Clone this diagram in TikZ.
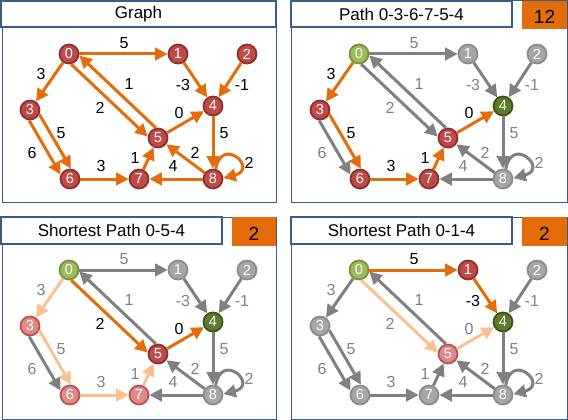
\documentclass[tikz,border=0pt]{standalone}
\usepackage{fontspec}
\setmainfont{Liberation Sans}
\usetikzlibrary{arrows.meta,calc}

\definecolor{hotorange}{HTML}{E46C0A}
\definecolor{paleorange}{HTML}{FAC090}
\definecolor{edgegray}{HTML}{808080}
\definecolor{framebl}{HTML}{385D8A}
\definecolor{redfill}{HTML}{BE4B48}
\definecolor{redline}{HTML}{8C3130}
\definecolor{pinkfill}{HTML}{D98C8A}
\definecolor{pinkline}{HTML}{C0504D}
\definecolor{grayfill}{HTML}{A6A6A6}
\definecolor{grayline}{HTML}{8C8C8C}
\definecolor{lgfill}{HTML}{9BBB59}
\definecolor{lgline}{HTML}{76923C}
\definecolor{dgfill}{HTML}{5E7B2B}
\definecolor{dgline}{HTML}{3F5218}

\tikzset{
  vertex/.style={circle, minimum size=19pt, inner sep=0pt, line width=1.8pt,
    text=white, font=\fontsize{14.5}{15}\selectfont},
  vred/.style={vertex, fill=redfill, draw=redline},
  vpink/.style={vertex, fill=pinkfill, draw=pinkline},
  vgray/.style={vertex, fill=grayfill, draw=grayline},
  vlgreen/.style={vertex, fill=lgfill, draw=lgline},
  vdgreen/.style={vertex, fill=dgfill, draw=dgline},
  link/.style={line width=3pt, -{Triangle[length=12.5pt,width=12.5pt]}},
  hot/.style={link, draw=hotorange, text=black},
  warm/.style={link, draw=paleorange, text=edgegray},
  cold/.style={link, draw=edgegray, text=edgegray},
  wlabel/.style={font=\fontsize{16}{17}\selectfont, inner sep=0pt},
  frame/.style={draw=framebl, line width=1pt},
  titlebox/.style={rectangle, draw=framebl, line width=1.5pt, fill=white,
    inner sep=0pt, font=\fontsize{17}{18}\selectfont},
  scorebox/.style={rectangle, fill=hotorange, inner sep=0pt,
    text height=17pt, text depth=0pt, font=\fontsize{19}{20}\selectfont},
  allhot/.style={e01/.style=hot, e03/.style=hot, e05/.style=hot, e50/.style=hot,
    e14/.style=hot, e24/.style=hot, e36a/.style=hot, e36b/.style=hot, e67/.style=hot,
    e75/.style=hot, e54/.style=hot, e48/.style=hot, e85/.style=hot, e87/.style=hot,
    e88/.style=hot},
  allcold/.style={e01/.style=cold, e03/.style=cold, e05/.style=cold, e50/.style=cold,
    e14/.style=cold, e24/.style=cold, e36a/.style=cold, e36b/.style=cold, e67/.style=cold,
    e75/.style=cold, e54/.style=cold, e48/.style=cold, e85/.style=cold, e87/.style=cold,
    e88/.style=cold},
  allred/.style={v0/.style=vred, v1/.style=vred, v2/.style=vred, v3/.style=vred,
    v4/.style=vred, v5/.style=vred, v6/.style=vred, v7/.style=vred, v8/.style=vred},
  allgray/.style={v0/.style=vgray, v1/.style=vgray, v2/.style=vgray, v3/.style=vgray,
    v4/.style=vgray, v5/.style=vgray, v6/.style=vgray, v7/.style=vgray, v8/.style=vgray},
}

% The weighted digraph; #1 prefixes every node name
\newcommand\graphpanel[1]{%
  \node[v0] (#1n0) at (69,54) {0};
  \node[v1] (#1n1) at (178,54) {1};
  \node[v2] (#1n2) at (247,54) {2};
  \node[v3] (#1n3) at (30,110) {3};
  \node[v4] (#1n4) at (213,106) {4};
  \node[v5] (#1n5) at (158,138) {5};
  \node[v6] (#1n6) at (70,179) {6};
  \node[v7] (#1n7) at (139,179) {7};
  \node[v8] (#1n8) at (213,179) {8};
  \draw[e01] (#1n0) -- (#1n1) node[wlabel, at={(124,43)}] (#1w01) {5};
  \draw[e03] (#1n0) -- (#1n3) node[wlabel, at={(41,74)}] (#1w03) {3};
  \draw[e05] (#1n0.-78) -- (#1n5.172) node[wlabel, at={(100,108)}] (#1w05) {2};
  \draw[e50] (#1n5.102) -- (#1n0.-8) node[wlabel, at={(129,84)}] (#1w50) {1};
  \draw[e14] (#1n1) -- (#1n4) node[wlabel, at={(183,85)}] (#1w14) {-3};
  \draw[e24] (#1n2) -- (#1n4) node[wlabel, at={(242,85)}] (#1w24) {-1};
  \draw[e36a] (#1n3.-95) -- (#1n6.155) node[wlabel, at={(32,153)}] (#1w36a) {6};
  \draw[e36b] (#1n3.-25) -- (#1n6.85) node[wlabel, at={(61,133)}] (#1w36b) {5};
  \draw[e67] (#1n6) -- (#1n7) node[wlabel, at={(101,166)}] (#1w67) {3};
  \draw[e75] (#1n7) -- (#1n5) node[wlabel, at={(135,158)}] (#1w75) {1};
  \draw[e54] (#1n5) -- (#1n4) node[wlabel, at={(179,113)}] (#1w54) {0};
  \draw[e48] (#1n4) -- (#1n8) node[wlabel, at={(224,133)}] (#1w48) {5};
  \draw[e85] (#1n8) -- (#1n5) node[wlabel, at={(195,153)}] (#1w85) {2};
  \draw[e87] (#1n8) -- (#1n7) node[wlabel, at={(173,166)}] (#1w87) {4};
  \draw[e88] (#1n8.75) .. controls ($(#1n8)+(9,-44)$) and ($(#1n8)+(46,-10)$) .. (#1n8.5)
    node[wlabel, at={(249,163)}] (#1w88) {2};
}

\begin{document}
\begin{tikzpicture}[x=1pt, y=-1pt]
  \useasboundingbox (0,0) rectangle (568,420);

  % panel frames
  \draw[frame] (2,1) rectangle (276,202);
  \draw[frame] (291,1) rectangle (567,202);
  \draw[frame] (2,217) rectangle (276,419);
  \draw[frame] (291,217) rectangle (567,419);

  % graphs
  \begin{scope}[allred, allhot]
    \graphpanel{a}
  \end{scope}
  \begin{scope}[shift={(290,0)}, allgray, allcold,
      v0/.style=vlgreen, v4/.style=vdgreen,
      v3/.style=vred, v6/.style=vred, v7/.style=vred, v5/.style=vred,
      e03/.style=hot, e36b/.style=hot, e67/.style=hot, e75/.style=hot, e54/.style=hot]
    \graphpanel{b}
  \end{scope}
  \begin{scope}[shift={(0,216)}, allgray, allcold,
      v0/.style=vlgreen, v4/.style=vdgreen, v5/.style=vred,
      v3/.style=vpink, v6/.style=vpink, v7/.style=vpink,
      e05/.style=hot, e54/.style=hot,
      e03/.style=warm, e36b/.style=warm, e67/.style=warm, e75/.style=warm]
    \graphpanel{c}
  \end{scope}
  \begin{scope}[shift={(290,216)}, allgray, allcold,
      v0/.style=vlgreen, v4/.style=vdgreen, v1/.style=vred, v5/.style=vpink,
      e01/.style=hot, e14/.style=hot, e05/.style=warm, e54/.style=warm]
    \graphpanel{d}
  \end{scope}

  % titles and path lengths
  \node[titlebox, minimum width=275pt, minimum height=26pt] (title1) at (138.5,14) {Graph};
  \node[titlebox, minimum width=221pt, minimum height=26pt] (title2) at (401.5,14) {Path 0-3-6-7-5-4};
  \node[scorebox, minimum width=45pt, minimum height=28pt] (score2) at (544.5,15) {12};
  \node[titlebox, minimum width=221pt, minimum height=27pt] (title3) at (111.5,230.5) {Shortest Path 0-5-4};
  \node[scorebox, minimum width=44pt, minimum height=29pt] (score3) at (254,231.5) {2};
  \node[titlebox, minimum width=221pt, minimum height=27pt] (title4) at (401.5,230.5) {Shortest Path 0-1-4};
  \node[scorebox, minimum width=45pt, minimum height=29pt] (score4) at (544.5,231.5) {2};
\end{tikzpicture}
\end{document}
